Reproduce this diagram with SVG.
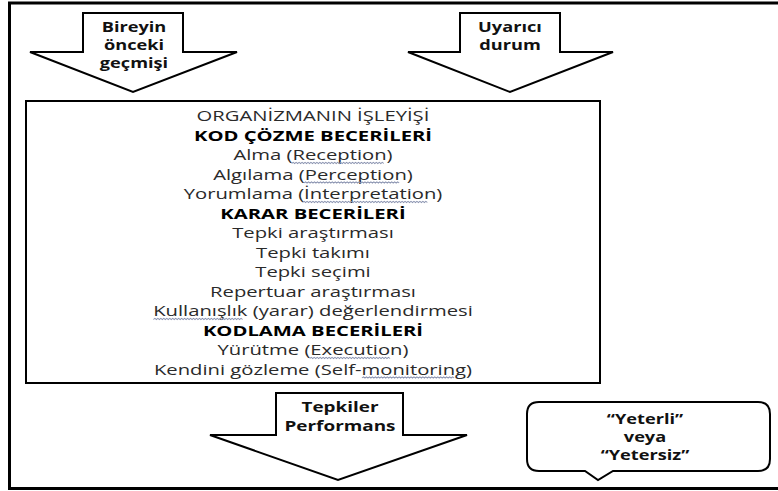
<svg xmlns="http://www.w3.org/2000/svg" width="778" height="491" viewBox="0 0 778 491">
<style>
.shape{fill:#fff;stroke:#000;stroke-width:2;stroke-linejoin:miter}
.lbl{font-family:"Open Sans","Liberation Sans",sans-serif;font-weight:bold;font-size:14px;fill:#111;text-anchor:middle}
.t{font-family:"Open Sans","Liberation Sans",sans-serif;font-size:15px;fill:#2a2a2a;text-anchor:middle}
.h{font-weight:bold;fill:#000}
.sq{fill:none;stroke:#8a93b0;stroke-width:0.9}
</style>
<rect width="778" height="491" fill="#fff"/>
<rect id="frame" x="9.5" y="3" width="800" height="485.5" fill="none" stroke="#000" stroke-width="3"/>
<g id="arrow-bireyin">
<polygon class="shape" points="83,13 183,13 183,52 237,52 133,92 30,52 83,52"/>
<g transform="translate(134 0) scale(1.3 1) translate(-134 0)">
<text class="lbl" x="134" y="32">Bireyin</text>
<text class="lbl" x="134" y="50">önceki</text>
<text class="lbl" x="134" y="68">geçmişi</text>
</g>
</g>
<g id="arrow-uyarici">
<polygon class="shape" points="460,13 560,13 560,52 613,52 510,92 408,52 460,52"/>
<g transform="translate(510 0) scale(1.3 1) translate(-510 0)">
<text class="lbl" x="510" y="32">Uyarıcı</text>
<text class="lbl" x="510" y="50">durum</text>
</g>
</g>
<g id="organizma">
<rect class="shape" x="26" y="101" width="574" height="282"/>
<g transform="translate(313 0) scale(1.35 1) translate(-313 0)">
<text class="t" x="313" y="121.5">ORGANİZMANIN İŞLEYİŞİ</text>
<text class="t h" x="313" y="141">KOD ÇÖZME BECERİLERİ</text>
<text class="t" x="313" y="160.5">Alma (Reception)</text>
<text class="t" x="313" y="180">Algılama (Perception)</text>
<text class="t" x="313" y="199.5">Yorumlama (İnterpretation)</text>
<text class="t h" x="313" y="219">KARAR BECERİLERİ</text>
<text class="t" x="313" y="238.5">Tepki araştırması</text>
<text class="t" x="313" y="258">Tepki takımı</text>
<text class="t" x="313" y="277.5">Tepki seçimi</text>
<text class="t" x="313" y="297">Repertuar araştırması</text>
<text class="t" x="313" y="316.5">Kullanışlık (yarar) değerlendirmesi</text>
<text class="t h" x="313" y="336">KODLAMA BECERİLERİ</text>
<text class="t" x="313" y="355.5">Yürütme (Execution)</text>
<text class="t" x="313" y="375">Kendini gözleme (Self-monitoring)</text>
<path class="sq" d="M297.2 163.5l1.1-1.2 1.1 1.2 1.1-1.2 1.1 1.2 1.1-1.2 1.1 1.2 1.1-1.2 1.1 1.2 1.1-1.2 1.1 1.2 1.1-1.2 1.1 1.2 1.1-1.2 1.1 1.2 1.1-1.2 1.1 1.2 1.1-1.2 1.1 1.2 1.1-1.2 1.1 1.2 1.1-1.2 1.1 1.2 1.1-1.2 1.1 1.2 1.1-1.2 1.1 1.2 1.1-1.2 1.1 1.2 1.1-1.2 1.1 1.2 1.1-1.2 1.1 1.2 1.1-1.2 1.1 1.2 1.1-1.2 1.1 1.2 1.1-1.2 1.1 1.2 1.1-1.2 1.1 1.2 1.1-1.2 1.1 1.2 1.1-1.2 1.1 1.2 1.1-1.2 1.1 1.2 1.1-1.2 1.1 1.2 1.1-1.2 1.1 1.2 1.1-1.2 1.1 1.2 1.1-1.2 1.1 1.2 1.1-1.2 1.1 1.2 1.1-1.2 1.1 1.2 1.1-1.2 1.1 1.2 1.1-1.2 1.1 1.2"/>
<path class="sq" d="M306.4 183l1.1-1.2 1.1 1.2 1.1-1.2 1.1 1.2 1.1-1.2 1.1 1.2 1.1-1.2 1.1 1.2 1.1-1.2 1.1 1.2 1.1-1.2 1.1 1.2 1.1-1.2 1.1 1.2 1.1-1.2 1.1 1.2 1.1-1.2 1.1 1.2 1.1-1.2 1.1 1.2 1.1-1.2 1.1 1.2 1.1-1.2 1.1 1.2 1.1-1.2 1.1 1.2 1.1-1.2 1.1 1.2 1.1-1.2 1.1 1.2 1.1-1.2 1.1 1.2 1.1-1.2 1.1 1.2 1.1-1.2 1.1 1.2 1.1-1.2 1.1 1.2 1.1-1.2 1.1 1.2 1.1-1.2 1.1 1.2 1.1-1.2 1.1 1.2 1.1-1.2 1.1 1.2 1.1-1.2 1.1 1.2 1.1-1.2 1.1 1.2 1.1-1.2 1.1 1.2 1.1-1.2 1.1 1.2 1.1-1.2 1.1 1.2 1.1-1.2 1.1 1.2 1.1-1.2 1.1 1.2 1.1-1.2 1.1 1.2 1.1-1.2 1.1 1.2"/>
<path class="sq" d="M305.3 202.5l1.1-1.2 1.1 1.2 1.1-1.2 1.1 1.2 1.1-1.2 1.1 1.2 1.1-1.2 1.1 1.2 1.1-1.2 1.1 1.2 1.1-1.2 1.1 1.2 1.1-1.2 1.1 1.2 1.1-1.2 1.1 1.2 1.1-1.2 1.1 1.2 1.1-1.2 1.1 1.2 1.1-1.2 1.1 1.2 1.1-1.2 1.1 1.2 1.1-1.2 1.1 1.2 1.1-1.2 1.1 1.2 1.1-1.2 1.1 1.2 1.1-1.2 1.1 1.2 1.1-1.2 1.1 1.2 1.1-1.2 1.1 1.2 1.1-1.2 1.1 1.2 1.1-1.2 1.1 1.2 1.1-1.2 1.1 1.2 1.1-1.2 1.1 1.2 1.1-1.2 1.1 1.2 1.1-1.2 1.1 1.2 1.1-1.2 1.1 1.2 1.1-1.2 1.1 1.2 1.1-1.2 1.1 1.2 1.1-1.2 1.1 1.2 1.1-1.2 1.1 1.2 1.1-1.2 1.1 1.2 1.1-1.2 1.1 1.2 1.1-1.2 1.1 1.2 1.1-1.2 1.1 1.2 1.1-1.2 1.1 1.2 1.1-1.2 1.1 1.2 1.1-1.2 1.1 1.2 1.1-1.2 1.1 1.2 1.1-1.2 1.1 1.2 1.1-1.2 1.1 1.2 1.1-1.2 1.1 1.2 1.1-1.2 1.1 1.2 1.1-1.2 1.1 1.2"/>
<path class="sq" d="M194.8 319.5l1.1-1.2 1.1 1.2 1.1-1.2 1.1 1.2 1.1-1.2 1.1 1.2 1.1-1.2 1.1 1.2 1.1-1.2 1.1 1.2 1.1-1.2 1.1 1.2 1.1-1.2 1.1 1.2 1.1-1.2 1.1 1.2 1.1-1.2 1.1 1.2 1.1-1.2 1.1 1.2 1.1-1.2 1.1 1.2 1.1-1.2 1.1 1.2 1.1-1.2 1.1 1.2 1.1-1.2 1.1 1.2 1.1-1.2 1.1 1.2 1.1-1.2 1.1 1.2 1.1-1.2 1.1 1.2 1.1-1.2 1.1 1.2 1.1-1.2 1.1 1.2 1.1-1.2 1.1 1.2 1.1-1.2 1.1 1.2 1.1-1.2 1.1 1.2 1.1-1.2 1.1 1.2 1.1-1.2 1.1 1.2 1.1-1.2 1.1 1.2 1.1-1.2 1.1 1.2 1.1-1.2 1.1 1.2 1.1-1.2 1.1 1.2 1.1-1.2 1.1 1.2 1.1-1.2 1.1 1.2"/>
<path class="sq" d="M310.6 358.5l1.1-1.2 1.1 1.2 1.1-1.2 1.1 1.2 1.1-1.2 1.1 1.2 1.1-1.2 1.1 1.2 1.1-1.2 1.1 1.2 1.1-1.2 1.1 1.2 1.1-1.2 1.1 1.2 1.1-1.2 1.1 1.2 1.1-1.2 1.1 1.2 1.1-1.2 1.1 1.2 1.1-1.2 1.1 1.2 1.1-1.2 1.1 1.2 1.1-1.2 1.1 1.2 1.1-1.2 1.1 1.2 1.1-1.2 1.1 1.2 1.1-1.2 1.1 1.2 1.1-1.2 1.1 1.2 1.1-1.2 1.1 1.2 1.1-1.2 1.1 1.2 1.1-1.2 1.1 1.2 1.1-1.2 1.1 1.2 1.1-1.2 1.1 1.2 1.1-1.2 1.1 1.2 1.1-1.2 1.1 1.2 1.1-1.2 1.1 1.2 1.1-1.2 1.1 1.2 1.1-1.2 1.1 1.2"/>
<path class="sq" d="M349.3 378l1.1-1.2 1.1 1.2 1.1-1.2 1.1 1.2 1.1-1.2 1.1 1.2 1.1-1.2 1.1 1.2 1.1-1.2 1.1 1.2 1.1-1.2 1.1 1.2 1.1-1.2 1.1 1.2 1.1-1.2 1.1 1.2 1.1-1.2 1.1 1.2 1.1-1.2 1.1 1.2 1.1-1.2 1.1 1.2 1.1-1.2 1.1 1.2 1.1-1.2 1.1 1.2 1.1-1.2 1.1 1.2 1.1-1.2 1.1 1.2 1.1-1.2 1.1 1.2 1.1-1.2 1.1 1.2 1.1-1.2 1.1 1.2 1.1-1.2 1.1 1.2 1.1-1.2 1.1 1.2 1.1-1.2 1.1 1.2 1.1-1.2 1.1 1.2 1.1-1.2 1.1 1.2 1.1-1.2 1.1 1.2 1.1-1.2 1.1 1.2 1.1-1.2 1.1 1.2 1.1-1.2 1.1 1.2 1.1-1.2 1.1 1.2 1.1-1.2 1.1 1.2 1.1-1.2 1.1 1.2 1.1-1.2 1.1 1.2"/>
</g>
</g>
<g id="arrow-tepkiler">
<polygon class="shape" points="276,393 403,393 403,435 467,435 338,480 210,435 276,435"/>
<g transform="translate(340 0) scale(1.35 1) translate(-340 0)">
<text class="lbl" x="340" y="412">Tepkiler</text>
<text class="lbl" x="340" y="431">Performans</text>
</g>
</g>
<g id="callout-yeterli">
<path class="shape" d="M539,402 H758 Q770,402 770,414 V459 Q770,471 758,471 H613 L598,480 L585,471 H539 Q527,471 527,459 V414 Q527,402 539,402 Z"/>
<g transform="translate(645 0) scale(1.3 1) translate(-645 0)">
<text class="lbl" x="645" y="424">“Yeterli”</text>
<text class="lbl" x="645" y="442">veya</text>
<text class="lbl" x="645" y="460">“Yetersiz”</text>
</g>
</g>
<g id="connectors"></g>
</svg>
